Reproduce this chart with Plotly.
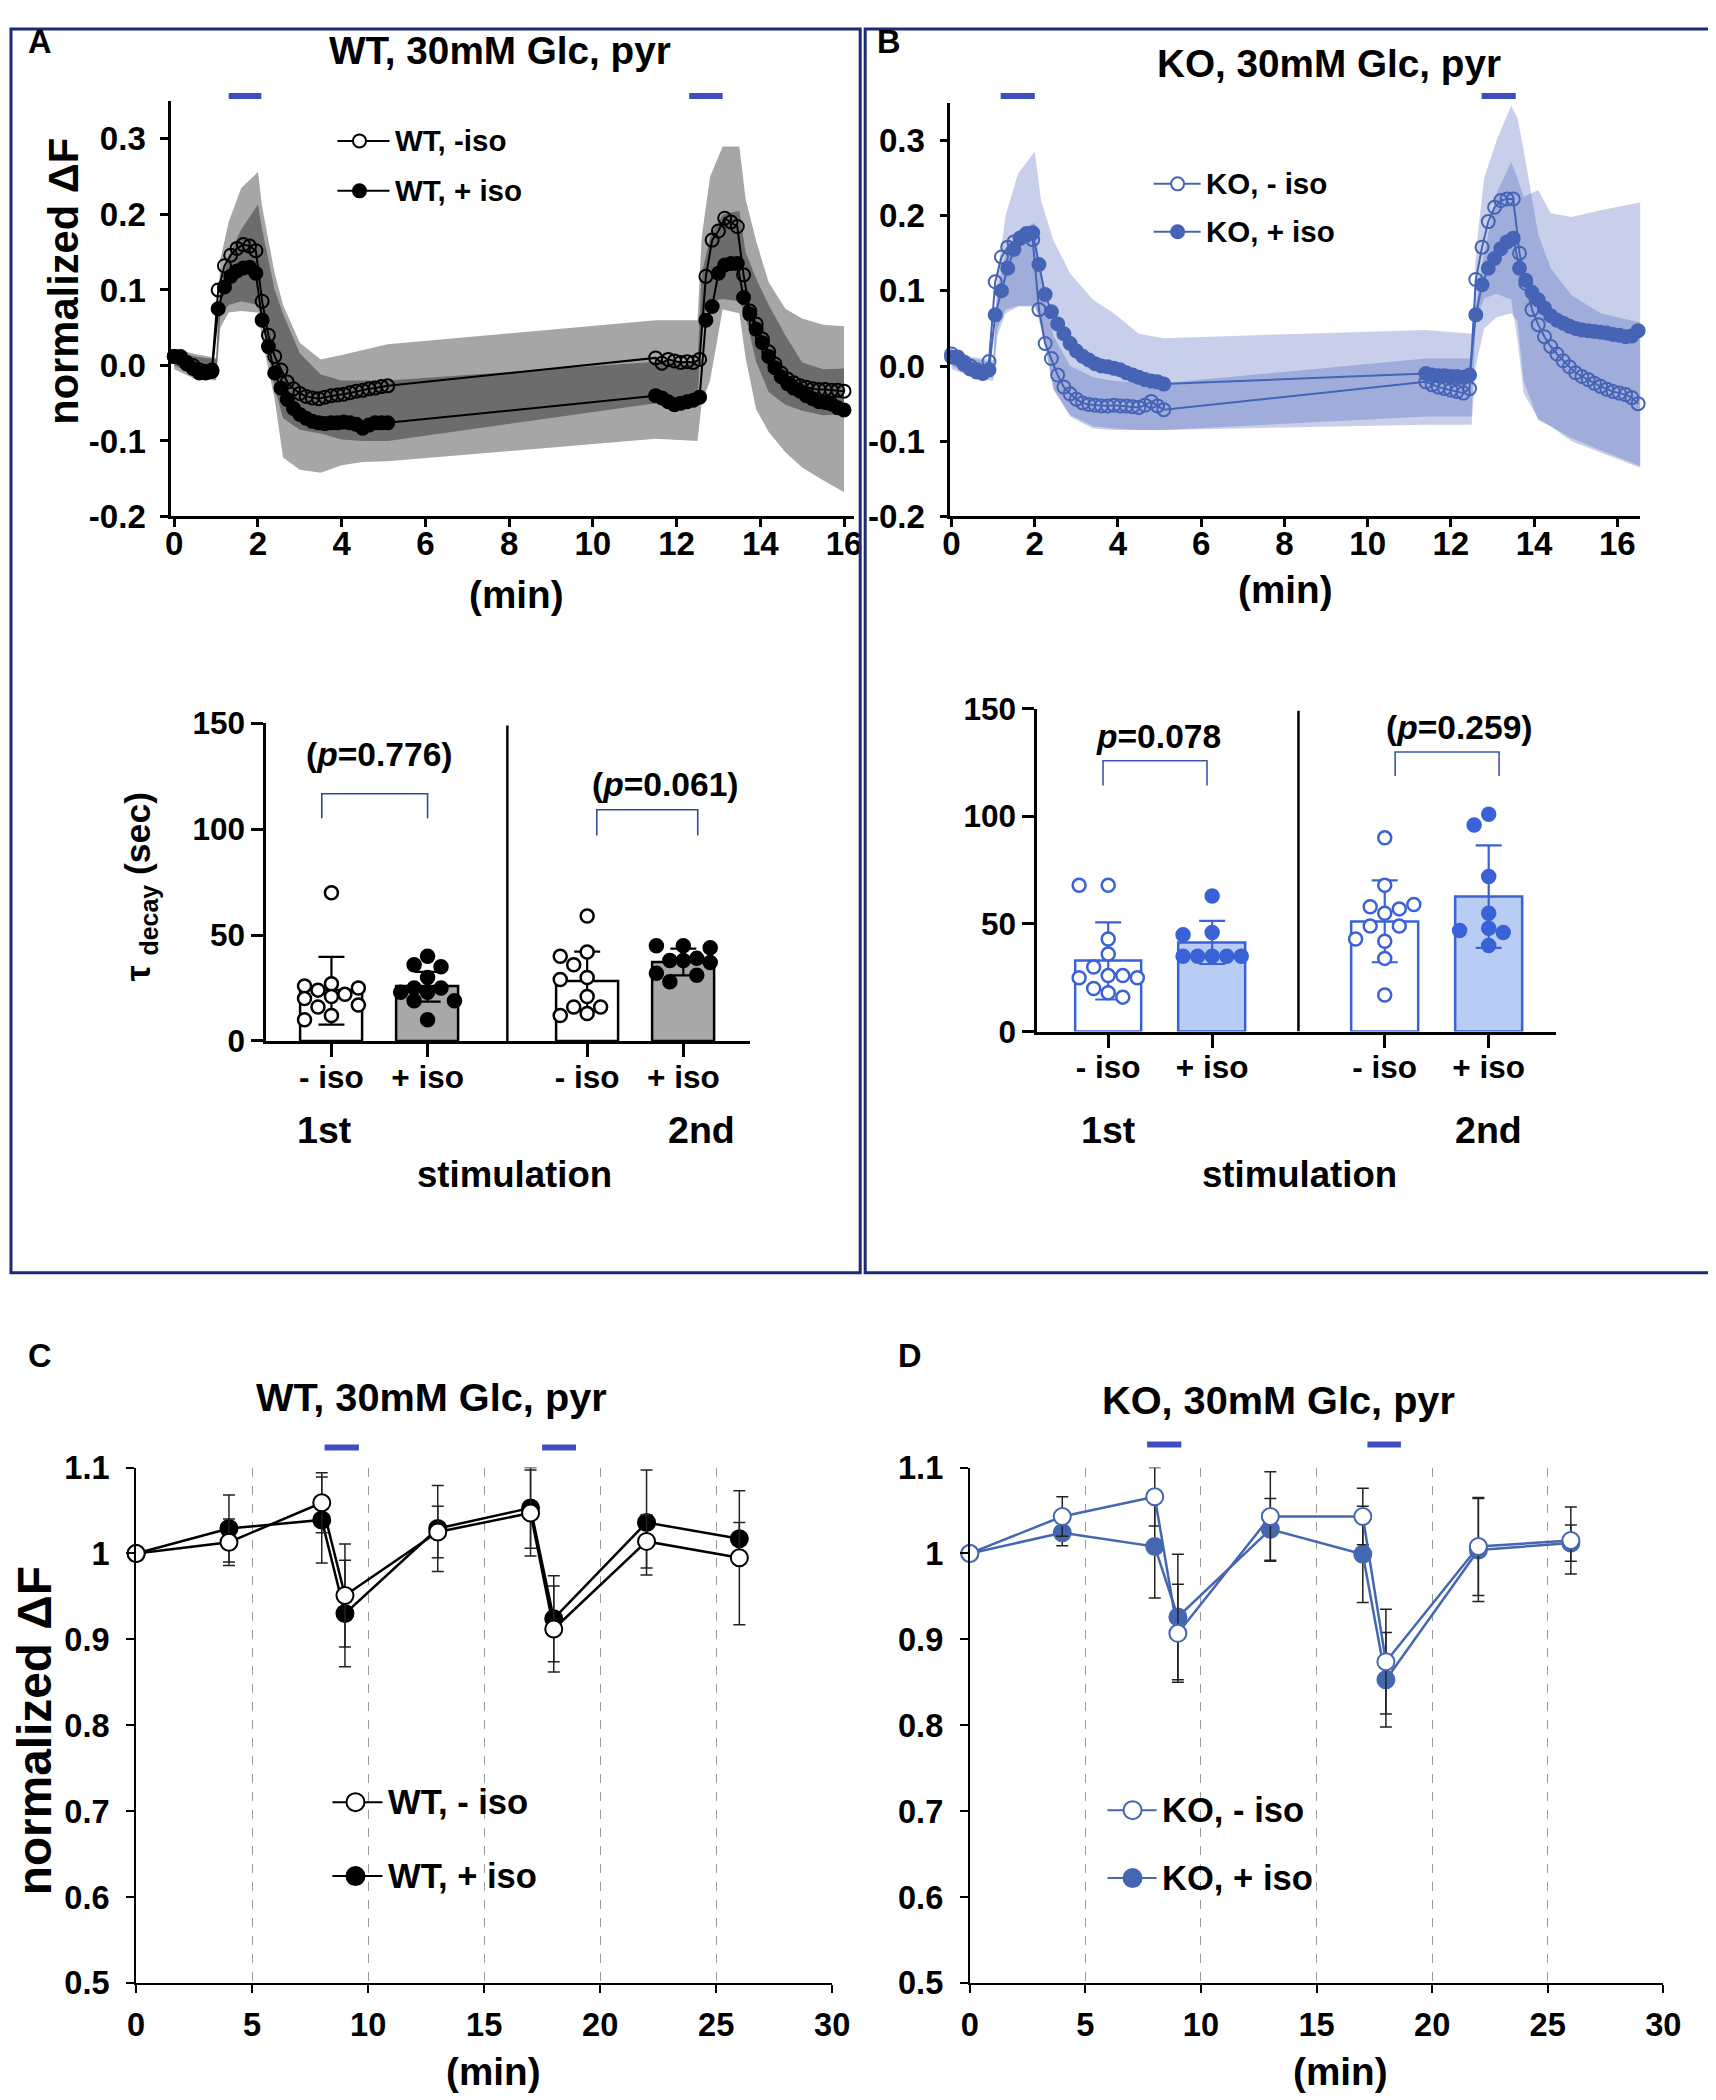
import plotly.graph_objects as go

# Layout is written in reference pixels (1716 x 2100) and mapped to paper coordinates.
# The page photo shows the figure slightly shrunk and offset, so compensate for it.
FIG_W, FIG_H = 1728, 2110
ORIG_X, ORIG_Y, S = 17, 26, 0.983
FONT = "Liberation Sans, Arial, sans-serif"

# ---------------- panels A / B : normalized dF traces ----------------
T_1 = [0, 0.15, 0.3, 0.45, 0.6, 0.75, 0.9, 1.05, 1.2, 1.35, 1.5, 1.65, 1.8, 1.95, 2.1, 2.25,
       2.4, 2.55, 2.7, 2.85, 3.0, 3.15, 3.3, 3.45, 3.6, 3.75, 3.9, 4.05, 4.2, 4.35, 4.5, 4.65,
       4.8, 4.95, 5.1]
T_A2 = [11.5, 11.65, 11.8, 11.95, 12.1, 12.25, 12.4, 12.55, 12.7, 12.85, 13.0, 13.15, 13.3,
        13.45, 13.6, 13.75, 13.9, 14.05, 14.2, 14.35, 14.5, 14.65, 14.8, 14.95, 15.1, 15.25,
        15.4, 15.55, 15.7, 15.85, 16.0]
T_B2 = [11.4, 11.55, 11.7, 11.85, 12.0, 12.15, 12.3, 12.45, 12.6, 12.75, 12.9, 13.05, 13.2,
        13.35, 13.5, 13.65, 13.8, 13.95, 14.1, 14.25, 14.4, 14.55, 14.7, 14.85, 15.0, 15.15,
        15.3, 15.45, 15.6, 15.75, 15.9, 16.05, 16.2, 16.35, 16.5]

WT_minus = [0.012, 0.012, 0.004, 0.0, -0.006, -0.008, -0.006, 0.100, 0.132, 0.146, 0.155, 0.160,
            0.158, 0.152, 0.085, 0.040, 0.012, -0.006, -0.022, -0.031, -0.037, -0.041, -0.043,
            -0.044, -0.042, -0.040, -0.039, -0.038, -0.036, -0.034, -0.033, -0.031, -0.030,
            -0.028, -0.027,
            0.010, 0.003, 0.008, 0.006, 0.004, 0.005, 0.004, 0.008, 0.118, 0.166, 0.178, 0.195,
            0.190, 0.184, 0.120, 0.072, 0.055, 0.035, 0.018, 0.002, -0.010, -0.018, -0.023,
            -0.027, -0.029, -0.031, -0.032, -0.032, -0.033, -0.033, -0.034]
WT_plus = [0.012, 0.010, 0.002, -0.004, -0.010, -0.010, -0.008, 0.075, 0.104, 0.118, 0.125, 0.129,
           0.130, 0.122, 0.060, 0.025, -0.010, -0.030, -0.045, -0.057, -0.065, -0.070, -0.074,
           -0.076, -0.077, -0.076, -0.076, -0.075, -0.076, -0.078, -0.083, -0.079, -0.076,
           -0.076, -0.076,
           -0.040, -0.043, -0.048, -0.052, -0.050, -0.048, -0.046, -0.042, 0.060, 0.078, 0.122,
           0.133, 0.135, 0.135, 0.090, 0.068, 0.048, 0.030, 0.012, -0.003, -0.015, -0.024,
           -0.030, -0.034, -0.040, -0.044, -0.048, -0.049, -0.051, -0.056, -0.059]
KO_minus = [0.016, 0.012, 0.005, 0.0, -0.005, -0.008, 0.006, 0.112, 0.145, 0.158, 0.165, 0.170,
            0.174, 0.168, 0.075, 0.030, 0.010, -0.012, -0.028, -0.037, -0.044, -0.049, -0.051,
            -0.052, -0.053, -0.053, -0.052, -0.053, -0.053, -0.054, -0.055, -0.052, -0.047,
            -0.053, -0.058,
            -0.021, -0.025, -0.028, -0.030, -0.032, -0.034, -0.036, -0.030, 0.115, 0.158, 0.192,
            0.211, 0.220, 0.222, 0.222, 0.150, 0.110, 0.075, 0.055, 0.039, 0.026, 0.016, 0.007,
            -0.001, -0.009, -0.014, -0.018, -0.023, -0.027, -0.031, -0.034, -0.036, -0.038,
            -0.042, -0.050]
KO_plus = [0.012, 0.010, 0.002, -0.004, -0.008, -0.010, -0.005, 0.068, 0.100, 0.130, 0.155, 0.170,
           0.176, 0.177, 0.135, 0.095, 0.072, 0.056, 0.043, 0.030, 0.020, 0.013, 0.008, 0.003,
           0.0, -0.001, -0.003, -0.005, -0.009, -0.012, -0.015, -0.018, -0.020, -0.021, -0.024,
           -0.010, -0.012, -0.013, -0.013, -0.014, -0.014, -0.015, -0.012, 0.068, 0.108, 0.130,
           0.143, 0.156, 0.165, 0.170, 0.130, 0.114, 0.098, 0.088, 0.077, 0.067, 0.061, 0.057,
           0.053, 0.050, 0.048, 0.047, 0.046, 0.045, 0.044, 0.042, 0.041, 0.039, 0.040, 0.047]

# SD envelopes (upper / lower) on a coarser time grid
TB_A = [0, 0.5, 1.0, 1.1, 1.3, 1.6, 2.0, 2.1, 2.4, 2.6, 3.0, 3.5, 4.0, 4.5, 5.1, 11.5, 12.5,
        12.6, 12.8, 13.1, 13.5, 13.65, 13.9, 14.2, 14.6, 15.0, 15.5, 16.0]
WT_minus_hi = [0.022, 0.015, 0.01, 0.14, 0.19, 0.235, 0.256, 0.21, 0.122, 0.08, 0.03, 0.008, 0.014,
               0.02, 0.028, 0.06, 0.06, 0.17, 0.25, 0.29, 0.29, 0.22, 0.165, 0.11, 0.075, 0.062,
               0.054, 0.052]
WT_minus_lo = [0.0, -0.012, -0.015, 0.065, 0.08, 0.085, 0.08, 0.06, -0.03, -0.07, -0.085, -0.09,
               -0.098, -0.1, -0.1, -0.05, -0.05, 0.06, 0.085, 0.088, 0.085, 0.065, 0.005, -0.035,
               -0.052, -0.06, -0.066, -0.065]
WT_plus_hi = [0.02, 0.012, 0.008, 0.1, 0.145, 0.18, 0.213, 0.18, 0.1, 0.068, 0.016, -0.012, -0.02,
              -0.02, -0.02, 0.005, 0.005, 0.12, 0.17, 0.2, 0.205, 0.15, 0.115, 0.08, 0.04, 0.004,
              -0.005, -0.004]
WT_plus_lo = [-0.005, -0.018, -0.02, 0.05, 0.07, 0.072, 0.07, 0.035, -0.045, -0.122, -0.138,
              -0.142, -0.132, -0.128, -0.127, -0.097, -0.1, -0.05, -0.02, 0.074, 0.069, 0.01,
              -0.058, -0.088, -0.115, -0.135, -0.152, -0.168]

TB_B = [0, 0.5, 1.0, 1.1, 1.3, 1.6, 2.0, 2.15, 2.45, 2.85, 3.4, 3.9, 4.5, 5.1, 11.4, 12.5, 12.6,
        12.8, 13.1, 13.45, 13.6, 13.75, 14.1, 14.4, 14.9, 15.6, 16.6]
KO_minus_hi = [0.02, 0.01, 0.005, 0.1, 0.15, 0.18, 0.19, 0.12, 0.04, 0.0, -0.015, -0.02, -0.022,
               -0.023, 0.01, 0.01, 0.15, 0.25, 0.3, 0.346, 0.33, 0.287, 0.175, 0.13, 0.094, 0.07,
               0.057]
KO_minus_lo = [0.0, -0.012, -0.016, 0.05, 0.075, 0.08, 0.08, 0.05, -0.03, -0.065, -0.08, -0.083,
               -0.085, -0.085, -0.067, -0.067, 0.06, 0.09, 0.096, 0.088, 0.035, -0.036, -0.07,
               -0.08, -0.096, -0.112, -0.134]
KO_plus_hi = [0.022, 0.012, 0.008, 0.12, 0.2, 0.256, 0.285, 0.22, 0.167, 0.123, 0.088, 0.07, 0.043,
              0.037, 0.048, 0.043, 0.08, 0.15, 0.23, 0.271, 0.25, 0.225, 0.234, 0.203, 0.198,
              0.207, 0.218]
KO_plus_lo = [-0.004, -0.015, -0.02, 0.04, 0.07, 0.079, 0.079, 0.062, -0.032, -0.067, -0.083,
              -0.085, -0.085, -0.085, -0.078, -0.078, 0.0, 0.05, 0.065, 0.07, 0.06, -0.02, -0.072,
              -0.08, -0.1, -0.115, -0.136]

STIM_A = [(1.3, 2.08), (12.3, 13.1)]
STIM_B = [(1.18, 2.0), (12.74, 13.56)]
TOP_YTICKS = [-0.2, -0.1, 0.0, 0.1, 0.2, 0.3]
TOP_YTEXT = ["-0.2", "-0.1", "0.0", "0.1", "0.2", "0.3"]
TOP_XTICKS = [0, 2, 4, 6, 8, 10, 12, 14, 16]

# ---------------- tau decay bar charts ----------------
BAR_LABELS = ["- iso", "+ iso", "- iso", "+ iso"]
WT_tau_mean = [23.7, 25.6, 28.2, 37.3]
WT_tau_sd = [16.0, 7.0, 14.0, 6.3]
WT_tau_pts = [
    [70, 27, 26, 25, 24, 22, 21, 20, 17, 16, 12, 10],
    [40, 36, 35, 30, 25, 25, 23, 23, 19, 19, 10],
    [59, 42, 40, 36, 30, 29, 21, 16, 16, 13, 12],
    [45, 45, 44, 38, 39, 38, 37, 31, 28, 32],
]
KO_tau_mean = [32.8, 41.4, 51.2, 62.7]
KO_tau_sd = [17.9, 10.0, 19.0, 23.8]
KO_tau_pts = [
    [68, 68, 43, 36, 30, 26, 25, 25, 26, 18, 20, 16],
    [63, 46, 45, 35, 35, 35, 35, 35],
    [90, 68, 55, 58, 57, 59, 49, 49, 42, 43, 34, 17],
    [101, 96, 72, 55, 48, 47, 46, 40],
]
WT_pvals = ["(<i>p</i>=0.776)", "(<i>p</i>=0.061)"]
KO_pvals = ["<i>p</i>=0.078", "(<i>p</i>=0.259)"]

# ---------------- panels C / D : time course ----------------
T_CD = [0, 4, 8, 9, 13, 17, 18, 22, 26]
C_minus = [1.0, 1.013, 1.059, 0.951, 1.025, 1.047, 0.912, 1.014, 0.995]
C_minus_err = [0, 0.027, 0.035, 0.06, 0.03, 0.05, 0.05, 0.031, 0.078]
C_plus = [1.0, 1.029, 1.039, 0.93, 1.029, 1.053, 0.924, 1.036, 1.017]
C_plus_err = [0, 0.039, 0.05, 0.062, 0.05, 0.047, 0.05, 0.061, 0.019]
D_minus = [1.0, 1.043, 1.066, 0.907, 1.043, 1.043, 0.874, 1.008, 1.015]
D_minus_err = [0, 0.023, 0.034, 0.057, 0.052, 0.033, 0.061, 0.057, 0.039]
D_plus = [1.0, 1.024, 1.008, 0.926, 1.028, 0.999, 0.853, 1.004, 1.012]
D_plus_err = [0, 0.015, 0.06, 0.073, 0.036, 0.056, 0.055, 0.06, 0.021]
STIM_C = [(8.12, 9.6), (17.5, 18.96)]
STIM_D = [(7.67, 9.15), (17.2, 18.65)]
CD_YTICKS = [0.5, 0.6, 0.7, 0.8, 0.9, 1.0, 1.1]
CD_YTEXT = ["0.5", "0.6", "0.7", "0.8", "0.9", "1", "1.1"]

# colours
GRAY_BAND = "rgba(0,0,0,0.35)"
BLUE_BAND = "rgba(70,95,185,0.30)"
KO_BLUE = "#4664b5"
BAR_BLUE = "#3a62d8"
BAR_BLUE_FILL = "#b9ccf3"
D_BLUE = "#4567b2"
STIM_BLUE = "#3d4fbf"
FRAME = "#1d2a78"


def px(x):
    return (x - ORIG_X) / S / FIG_W


def py(y):
    return 1 - (y - ORIG_Y) / S / FIG_H


def fs(size):
    return round(size / S, 1)


fig = go.Figure()


def add_band(t, lo, hi, color, xa, ya):
    fig.add_trace(go.Scatter(x=t + t[::-1], y=hi + lo[::-1], fill="toself", fillcolor=color,
                             mode="lines", line=dict(width=0), hoverinfo="skip",
                             showlegend=False, xaxis=xa, yaxis=ya))


def add_series(t, y, name, color, filled, xa, ya, size=13, err=None,
               fill_open="rgba(0,0,0,0)", lw=2):
    marker = dict(symbol="circle", size=size, color=color if filled else fill_open,
                  line=dict(color=color, width=2))
    kw = {}
    if err is not None:
        kw["error_y"] = dict(type="data", array=err, color="#222222", thickness=1.5, width=6)
    fig.add_trace(go.Scatter(x=t, y=y, mode="lines+markers", name=name,
                             line=dict(color=color, width=lw), marker=marker,
                             xaxis=xa, yaxis=ya, showlegend=False, cliponaxis=False, **kw))


# ---- A (top) ----
add_band(TB_A, WT_minus_lo, WT_minus_hi, GRAY_BAND, "x", "y")
add_band(TB_A, WT_plus_lo, WT_plus_hi, GRAY_BAND, "x", "y")
add_series(T_1 + T_A2, WT_plus, "WT, + iso", "black", True, "x", "y")
add_series(T_1 + T_A2, WT_minus, "WT, -iso", "black", False, "x", "y")

# ---- B (top) ----
add_band(TB_B, KO_plus_lo, KO_plus_hi, BLUE_BAND, "x2", "y2")
add_band(TB_B, KO_minus_lo, KO_minus_hi, BLUE_BAND, "x2", "y2")
add_series(T_1 + T_B2, KO_minus, "KO, - iso", KO_BLUE, False, "x2", "y2")
add_series(T_1 + T_B2, KO_plus, "KO, + iso", KO_BLUE, True, "x2", "y2")


# ---- bar charts ----
POS = [0, 1, 2.66, 3.66]


def swarm(vals, xu, yu, diam=15.0, step=0.14, maxoff=0.29):
    cands = [0.0]
    k = 1
    while k * step <= maxoff + 1e-9:
        cands += [-k * step, k * step]
        k += 1
    placed, offs = [], []
    for v in vals:
        chosen, bestd, bestc = None, -1.0, 0.0
        for c in cands:
            dists = [(((c - po) * xu) ** 2 + ((v - pv) * yu) ** 2) ** 0.5 for po, pv in placed]
            d = min(dists) if dists else 1e9
            if d >= diam:
                chosen = c
                break
            if d > bestd:
                bestd, bestc = d, c
        if chosen is None:
            chosen = bestc
        placed.append((chosen, v))
        offs.append(chosen)
    return offs


def add_bars(means, sds, pts, xa, ya, line_col, fills, pt_col, err_col, xu, yu):
    fig.add_trace(go.Bar(x=POS, y=means, width=0.64, xaxis=xa, yaxis=ya, showlegend=False,
                         marker=dict(color=fills, line=dict(color=line_col, width=2.5)),
                         error_y=dict(type="data", array=sds, color=err_col, thickness=2.2,
                                      width=13)))
    for i, vals in enumerate(pts):
        offs = swarm(vals, xu, yu)
        filled = i % 2 == 1
        fig.add_trace(go.Scatter(
            x=[POS[i] + o for o in offs], y=vals, mode="markers", showlegend=False,
            xaxis=xa, yaxis=ya, cliponaxis=False,
            marker=dict(size=13, color=pt_col if filled else "white",
                        line=dict(color=pt_col, width=2.5))))


add_bars(WT_tau_mean, WT_tau_sd, WT_tau_pts, "x3", "y3", "black",
         ["white", "#a8a8a8", "white", "#a8a8a8"], "black", "black", 96, 2.12)
add_bars(KO_tau_mean, KO_tau_sd, KO_tau_pts, "x4", "y4", BAR_BLUE,
         ["white", BAR_BLUE_FILL, "white", BAR_BLUE_FILL], BAR_BLUE, BAR_BLUE, 104, 2.16)

# ---- C / D ----
add_series(T_CD, C_plus, "WT, + iso", "black", True, "x5", "y5", size=17,
           err=C_plus_err, lw=2.5)
add_series(T_CD, C_minus, "WT, - iso", "black", False, "x5", "y5", size=17,
           err=C_minus_err, fill_open="white", lw=2.5)
add_series(T_CD, D_plus, "KO, + iso", D_BLUE, True, "x6", "y6", size=17,
           err=D_plus_err, lw=2.5)
add_series(T_CD, D_minus, "KO, - iso", D_BLUE, False, "x6", "y6", size=17,
           err=D_minus_err, fill_open="white", lw=2.5)


# ---------------- axes ----------------
def tfont(size):
    return dict(family=FONT, size=fs(size), color="black", weight="bold")


def axis(dom, rng, anchor, **kw):
    d = dict(domain=dom, range=rng, anchor=anchor, showgrid=False, zeroline=False,
             showline=True, linecolor="black", ticks="outside", tickcolor="black",
             fixedrange=True)
    d.update(kw)
    return d


top_tick = dict(linewidth=2.5, tickwidth=2.5, ticklen=8, tickfont=tfont(32.5))
bar_tick = dict(linewidth=3, tickwidth=2.5, tickfont=tfont(31))
cd_tick = dict(linewidth=2, tickwidth=1.5, ticklen=8, tickfont=tfont(32))

layout_axes = dict(
    xaxis=axis([px(171), px(852.9)], [-0.072, 16.24], "y", tickvals=TOP_XTICKS,
               ticklabelstandoff=-12, **top_tick),
    yaxis=axis([py(516), py(100.2)], [-0.2, 0.35], "x", tickvals=TOP_YTICKS,
               ticktext=TOP_YTEXT, ticklabelstandoff=8, **top_tick),
    xaxis2=axis([px(949), px(1637.9)], [-0.03, 16.55], "y2", tickvals=TOP_XTICKS,
                ticklabelstandoff=-12, **top_tick),
    yaxis2=axis([py(516), py(101.8)], [-0.2, 0.35], "x2", tickvals=TOP_YTICKS,
                ticktext=TOP_YTEXT, ticklabelstandoff=8, **top_tick),
    xaxis3=axis([px(266), px(749)], [-0.677, 4.354], "y3", tickvals=POS, ticktext=BAR_LABELS,
                ticklen=13, ticklabelstandoff=-7, **bar_tick),
    yaxis3=axis([py(1041), py(723)], [0, 150], "x3", tickvals=[0, 50, 100, 150], ticklen=12,
                **bar_tick),
    xaxis4=axis([px(1036), px(1553.8)], [-0.681, 4.307], "y4", tickvals=POS,
                ticktext=BAR_LABELS, ticklen=13, ticklabelstandoff=-7, **bar_tick),
    yaxis4=axis([py(1031.6), py(708.4)], [0, 150], "x4", tickvals=[0, 50, 100, 150],
                ticklen=12, **bar_tick),
    xaxis5=axis([px(136), px(831)], [0, 30], "y5", tickvals=[0, 5, 10, 15, 20, 25, 30],
                ticklabelstandoff=4, **cd_tick),
    yaxis5=axis([py(1984), py(1468)], [0.5, 1.1], "x5", tickvals=CD_YTICKS,
                ticktext=CD_YTEXT, ticklabelstandoff=10, **cd_tick),
    xaxis6=axis([px(968.5), px(1661)], [0, 30], "y6", tickvals=[0, 5, 10, 15, 20, 25, 30],
                ticklabelstandoff=4, **cd_tick),
    yaxis6=axis([py(1984), py(1468)], [0.5, 1.1], "x6", tickvals=CD_YTICKS,
                ticktext=CD_YTEXT, ticklabelstandoff=10, **cd_tick),
)
for k in ("xaxis5", "xaxis6"):
    layout_axes[k].update(showgrid=True, gridcolor="#9a9a9a", griddash="dash", gridwidth=1.2)

# ---------------- shapes ----------------
shapes = []
for x0, x1 in ((11, 859), (864, 1712)):
    shapes.append(dict(type="rect", xref="paper", yref="paper", x0=px(x0), x1=px(x1),
                       y0=py(1273), y1=py(28), line=dict(color=FRAME, width=3)))


def stim(bars, xref, ypix):
    for a, b in bars:
        shapes.append(dict(type="line", xref=xref, yref="paper", x0=a, x1=b, y0=py(ypix),
                           y1=py(ypix), line=dict(color=STIM_BLUE, width=6)))


stim(STIM_A, "x", 95)
stim(STIM_B, "x2", 95)
stim(STIM_C, "x5", 1448)
stim(STIM_D, "x6", 1445)

SEP = (POS[1] + POS[2]) / 2
for xr, yr in (("x3", "y3"), ("x4", "y4")):
    shapes.append(dict(type="line", xref=xr, yref=yr, x0=SEP, x1=SEP, y0=0, y1=149,
                       line=dict(color="black", width=2.5)))


def bracket(xr, yr, a, b, lo, hi, color):
    shapes.append(dict(type="path", xref=xr, yref=yr,
                       path=f"M {a},{lo} L {a},{hi} L {b},{hi} L {b},{lo}",
                       line=dict(color=color, width=1.6)))


bracket("x3", "y3", POS[0] - 0.1, POS[1], 105.2, 116.7, "#34489a")
bracket("x3", "y3", POS[2] + 0.1, POS[3] + 0.15, 97, 109.2, "#34489a")
bracket("x4", "y4", POS[0] - 0.05, POS[1] - 0.05, 114.3, 125.8, "#3d55a8")
bracket("x4", "y4", POS[2] + 0.1, POS[3] + 0.1, 118.7, 129.9, "#3d55a8")

# ---------------- annotations ----------------
ann = []


def text(x, y, s, size, angle=0, xref="paper", yref="paper", anchor="center"):
    ann.append(dict(x=x, y=y, xref=xref, yref=yref, text=s, showarrow=False,
                    textangle=angle, xanchor=anchor, yanchor="middle",
                    font=dict(family=FONT, size=fs(size), color="black", weight="bold")))


def legend_entry(x0, x1, xm, y, label, color, filled, diam, size, lw):
    shapes.append(dict(type="line", xref="paper", yref="paper", x0=px(x0), x1=px(x1),
                       y0=py(y), y1=py(y), line=dict(color=color, width=lw)))
    r = diam / 2
    shapes.append(dict(type="circle", xref="paper", yref="paper", xsizemode="pixel",
                       ysizemode="pixel", xanchor=px(xm), yanchor=py(y), x0=-r, x1=r,
                       y0=-r, y1=r, fillcolor=color if filled else "white",
                       line=dict(color=color, width=2)))
    text(px(x1 + 3), py(y), label, size, anchor="left")


text(px(40), py(41), "A", 32)
text(px(888), py(41), "B", 32)
text(px(40), py(1356), "C", 32)
text(px(909), py(1356), "D", 32)
text(px(499), py(50), "WT, 30mM Glc, pyr", 38)
text(px(1327), py(63), "KO, 30mM Glc, pyr", 38)
text(px(431), py(1397), "WT, 30mM Glc, pyr", 39)
text(px(1277), py(1400), "KO, 30mM Glc, pyr", 39)
text(px(516), py(594), "(min)", 38)
text(px(1284), py(589), "(min)", 38)
text(px(493), py(2073), "(min)", 38)
text(px(1339), py(2073), "(min)", 38)
text(px(64), py(281), "normalized ΔF", 41, angle=-90)
text(px(34), py(1732), "normalized ΔF", 47, angle=-90)
text(px(140), py(887), "τ <sub>decay</sub> (sec)", 35, angle=-90)

for cx1, cx2, cst in ((324, 701, 514), (1107, 1486, 1298)):
    text(px(cx1), py(1130), "1st", 37)
    text(px(cx2), py(1130), "2nd", 37)
    text(px(cst), py(1175), "stimulation", 36)

text((POS[0] + POS[1]) / 2 - 0.005, 135.2, WT_pvals[0], 33, xref="x3", yref="y3")
text((POS[2] + POS[3]) / 2 + 0.31, 121, WT_pvals[1], 33, xref="x3", yref="y3")
text((POS[0] + POS[1]) / 2 - 0.015, 137, KO_pvals[0], 33, xref="x4", yref="y4")
text((POS[2] + POS[3]) / 2 + 0.22, 141.3, KO_pvals[1], 33, xref="x4", yref="y4")

# legends (drawn by hand so the glyph line matches the reference length)
legend_entry(337, 389, 359, 140, "WT, -iso", "black", False, 13, 29, 2)
legend_entry(337, 389, 359, 190, "WT, + iso", "black", True, 13, 29, 2)
legend_entry(1152, 1199, 1176, 183, "KO, - iso", KO_BLUE, False, 13, 29, 2)
legend_entry(1152, 1199, 1176, 231, "KO, + iso", KO_BLUE, True, 13, 29, 2)
legend_entry(332, 382, 355, 1803, "WT, - iso", "black", False, 18, 34, 2)
legend_entry(332, 382, 355, 1877, "WT, + iso", "black", True, 18, 34, 2)
legend_entry(1106, 1155, 1131, 1811, "KO, - iso", D_BLUE, False, 18, 34, 2)
legend_entry(1106, 1155, 1131, 1879, "KO, + iso", D_BLUE, True, 18, 34, 2)

fig.update_layout(
    width=FIG_W, height=FIG_H, autosize=False,
    margin=dict(l=0, r=0, t=0, b=0),
    paper_bgcolor="white", plot_bgcolor="white",
    font=dict(family=FONT, color="black"),
    showlegend=False,
    shapes=shapes,
    annotations=ann,
    bargap=0,
    **layout_axes,
)

fig.write_html("out.html")
